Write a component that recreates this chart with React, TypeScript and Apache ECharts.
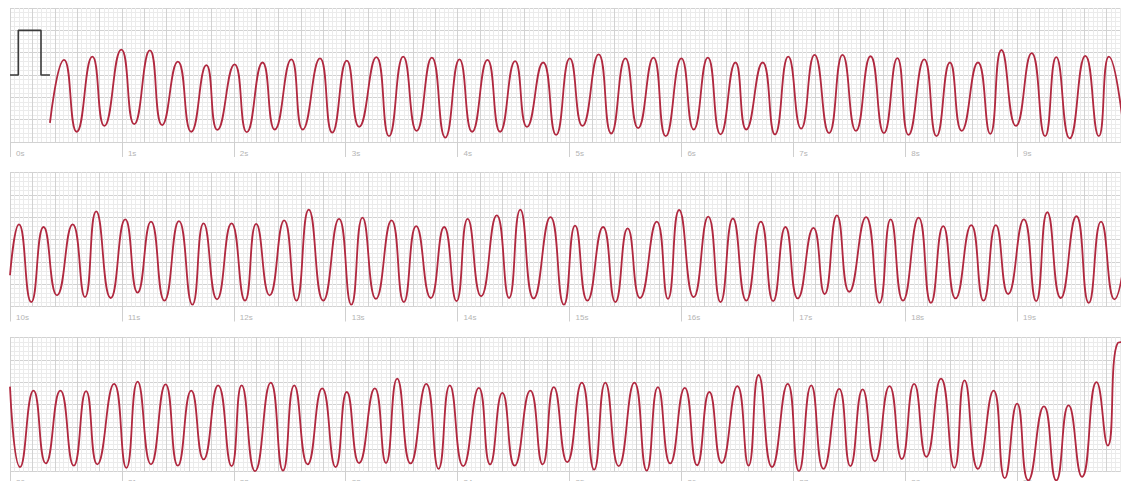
import React, { useEffect, useRef } from "react";
import * as echarts from "echarts";

// Calibration pulse (s, mV)
const calibration: [number, number][] = [
  [0, 0], [0.074, 0], [0.074, 1], [0.277, 1], [0.277, 0], [0.357, 0],
];

// Strip 1: 0–10 s, extrema of the trace (s, mV)
const strip1: [number, number][] = [
  [0.357, -1.07], [0.483, 0.34], [0.596, -1.27], [0.736, 0.41], [0.843, -1.14], [0.995, 0.57],
  [1.11, -1.1], [1.25, 0.55], [1.36, -1.12], [1.5, 0.3], [1.62, -1.27], [1.755, 0.22],
  [1.853, -1.23], [2.007, 0.24], [2.116, -1.28], [2.257, 0.28], [2.366, -1.22], [2.514, 0.35],
  [2.616, -1.22], [2.77, 0.37], [2.88, -1.29], [3.01, 0.32], [3.12, -1.16], [3.274, 0.4],
  [3.387, -1.37], [3.514, 0.41], [3.634, -1.25], [3.77, 0.39], [3.89, -1.4], [4.017, 0.35],
  [4.13, -1.27], [4.267, 0.34], [4.38, -1.27], [4.514, 0.31], [4.62, -1.16], [4.764, 0.28],
  [4.88, -1.34], [5.003, 0.37], [5.116, -1.14], [5.26, 0.46], [5.373, -1.31], [5.5, 0.37],
  [5.613, -1.19], [5.75, 0.39], [5.86, -1.37], [6.0, 0.37], [6.11, -1.22], [6.236, 0.39],
  [6.35, -1.33], [6.483, 0.28], [6.58, -1.22], [6.726, 0.28], [6.836, -1.33], [6.955, 0.41],
  [7.07, -1.2], [7.19, 0.45], [7.32, -1.3], [7.44, 0.45], [7.56, -1.25], [7.69, 0.42],
  [7.81, -1.3], [7.93, 0.38], [8.03, -1.34], [8.17, 0.35], [8.28, -1.37], [8.4, 0.28],
  [8.505, -1.25], [8.65, 0.28], [8.76, -1.32], [8.86, 0.56], [8.99, -1.14], [9.13, 0.49],
  [9.25, -1.37], [9.35, 0.4], [9.47, -1.42], [9.61, 0.43], [9.73, -1.37], [9.82, 0.41],
  [9.96, -1.38],
];

// Strip 2: 10–20 s
const strip2: [number, number][] = [
  [10.0, -0.8], [10.08, 0.34], [10.19, -1.4], [10.3, 0.28], [10.42, -1.25], [10.56, 0.34],
  [10.67, -1.29], [10.77, 0.63], [10.9, -1.31], [11.03, 0.45], [11.14, -1.19], [11.26, 0.4],
  [11.38, -1.37], [11.51, 0.41], [11.63, -1.46], [11.73, 0.36], [11.85, -1.34], [11.98, 0.36],
  [12.1, -1.37], [12.2, 0.35], [12.32, -1.25], [12.45, 0.43], [12.56, -1.37], [12.67, 0.67],
  [12.8, -1.37], [12.94, 0.46], [13.05, -1.46], [13.15, 0.49], [13.27, -1.33], [13.41, 0.43],
  [13.52, -1.4], [13.63, 0.3], [13.76, -1.31], [13.88, 0.28], [13.99, -1.38], [14.09, 0.46],
  [14.21, -1.27], [14.35, 0.54], [14.46, -1.31], [14.56, 0.67], [14.68, -1.32], [14.83, 0.5],
  [14.95, -1.46], [15.05, 0.31], [15.16, -1.37], [15.3, 0.28], [15.41, -1.4], [15.52, 0.25],
  [15.63, -1.31], [15.78, 0.4], [15.88, -1.33], [15.98, 0.66], [16.11, -1.29], [16.24, 0.51],
  [16.35, -1.4], [16.46, 0.47], [16.58, -1.37], [16.71, 0.4], [16.82, -1.38], [16.93, 0.28],
  [17.04, -1.32], [17.18, 0.26], [17.28, -1.22], [17.39, 0.54], [17.5, -1.17], [17.65, 0.5],
  [17.77, -1.42], [17.87, 0.45], [17.98, -1.37], [18.12, 0.49], [18.23, -1.42], [18.34, 0.3],
  [18.45, -1.32], [18.59, 0.32], [18.7, -1.37], [18.81, 0.32], [18.92, -1.22], [19.06, 0.45],
  [19.17, -1.38], [19.27, 0.61], [19.39, -1.31], [19.53, 0.52], [19.64, -1.42], [19.75, 0.4],
  [19.87, -1.34], [19.99, 0.2],
];

// Strip 3: 20–30 s
const strip3: [number, number][] = [
  [20.0, 0.4], [20.09, -1.4], [20.21, 0.31], [20.32, -1.32], [20.45, 0.31], [20.57, -1.37],
  [20.68, 0.3], [20.78, -1.34], [20.93, 0.46], [21.04, -1.42], [21.14, 0.51], [21.26, -1.34],
  [21.39, 0.45], [21.5, -1.37], [21.62, 0.31], [21.73, -1.23], [21.86, 0.43], [21.98, -1.38],
  [22.07, 0.43], [22.19, -1.49], [22.33, 0.49], [22.44, -1.48], [22.54, 0.43], [22.66, -1.34],
  [22.79, 0.36], [22.91, -1.4], [23.01, 0.28], [23.12, -1.31], [23.26, 0.36], [23.36, -1.31],
  [23.46, 0.58], [23.58, -1.32], [23.72, 0.46], [23.83, -1.44], [23.93, 0.43], [24.05, -1.38],
  [24.19, 0.37], [24.29, -1.34], [24.4, 0.26], [24.51, -1.37], [24.65, 0.31], [24.76, -1.34],
  [24.86, 0.39], [24.98, -1.29], [25.11, 0.49], [25.22, -1.46], [25.32, 0.49], [25.44, -1.38],
  [25.58, 0.49], [25.69, -1.48], [25.79, 0.39], [25.9, -1.32], [26.03, 0.37], [26.14, -1.36],
  [26.25, 0.28], [26.36, -1.31], [26.5, 0.41], [26.6, -1.37], [26.69, 0.66], [26.81, -1.4],
  [26.95, 0.46], [27.05, -1.49], [27.16, 0.43], [27.27, -1.44], [27.41, 0.35], [27.51, -1.38],
  [27.62, 0.34], [27.73, -1.27], [27.86, 0.41], [27.97, -1.22], [28.08, 0.46], [28.19, -1.17],
  [28.32, 0.58], [28.44, -1.42], [28.53, 0.54], [28.65, -1.44], [28.79, 0.31], [28.89, -1.65],
  [29.0, 0.02], [29.1, -1.7], [29.24, -0.04], [29.35, -1.7], [29.46, -0.02], [29.58, -1.62],
  [29.71, 0.5], [29.81, -0.92], [29.9, 1.38], [29.96, 1.4],
];

const strips = [
  { data: strip1, start: 0, top: 8 },
  { data: strip2, start: 10, top: 172.5 },
  { data: strip3, start: 20, top: 337.5 },
];

const TRACE = "#b0283f";
const MAJOR = "#d2d2d2";
const MINOR = "#ebebeb";

export default function App() {
  const ref = useRef<HTMLDivElement>(null);
  useEffect(() => {
    if (!ref.current) return;
    const chart = echarts.init(ref.current, null, { renderer: "svg" });
    const grid: any[] = [];
    const xAxis: any[] = [];
    const yAxis: any[] = [];
    const series: any[] = [];
    strips.forEach((s, i) => {
      grid.push({
        left: 10, top: s.top, width: 1119, height: 134,
        containLabel: false, outerBoundsMode: "none",
      });
      // grid-lines axis
      xAxis.push({
        type: "value", gridIndex: i, min: s.start, max: s.start + 10, interval: 0.2,
        axisLine: { show: false }, axisTick: { show: false }, axisLabel: { show: false },
        splitLine: { show: true, lineStyle: { color: MAJOR, width: 1 } },
        minorTick: { show: false, splitNumber: 5 },
        minorSplitLine: { show: true, lineStyle: { color: MINOR, width: 1 } },
      });
      // seconds axis
      xAxis.push({
        type: "value", gridIndex: i, min: s.start, max: s.start + 10, interval: 1,
        position: "bottom",
        axisLine: { show: false },
        axisTick: { show: true, length: 15, lineStyle: { color: "#cfcfcf" } },
        axisLabel: {
          show: true, showMaxLabel: false,
          formatter: (v: number) => `${Math.round(v)}s`, align: "left",
          padding: [0, 0, 0, 6], margin: 7, fontSize: 8, color: "#b4b4b4",
          fontFamily: "Liberation Sans, Arial, sans-serif",
        },
        splitLine: { show: false },
      });
      yAxis.push({
        type: "value", gridIndex: i, min: -1.5, max: 1.5, interval: 0.5,
        axisLine: { show: false }, axisTick: { show: false }, axisLabel: { show: false },
        splitLine: { show: true, lineStyle: { color: MAJOR, width: 1 } },
        minorTick: { show: false, splitNumber: 5 },
        minorSplitLine: { show: true, lineStyle: { color: MINOR, width: 1 } },
      });
      series.push({
        type: "line", xAxisIndex: i * 2, yAxisIndex: i, data: s.data,
        smooth: 0.55, showSymbol: false, clip: false,
        lineStyle: { color: TRACE, width: 1.8 },
      });
    });
    series.push({
      type: "line", xAxisIndex: 0, yAxisIndex: 0, data: calibration,
      showSymbol: false, lineStyle: { color: "#3a3a3a", width: 1.6 },
    });
    chart.setOption({
      animation: false,
      backgroundColor: "#ffffff",
      grid, xAxis, yAxis, series,
    });
    return () => chart.dispose();
  }, []);
  return (
    <div style={{ position: "fixed", left: 0, top: 0, width: 1121, height: 481, overflow: "hidden" }}>
      <div ref={ref} style={{ width: 1160, height: 500 }} />
    </div>
  );
}
